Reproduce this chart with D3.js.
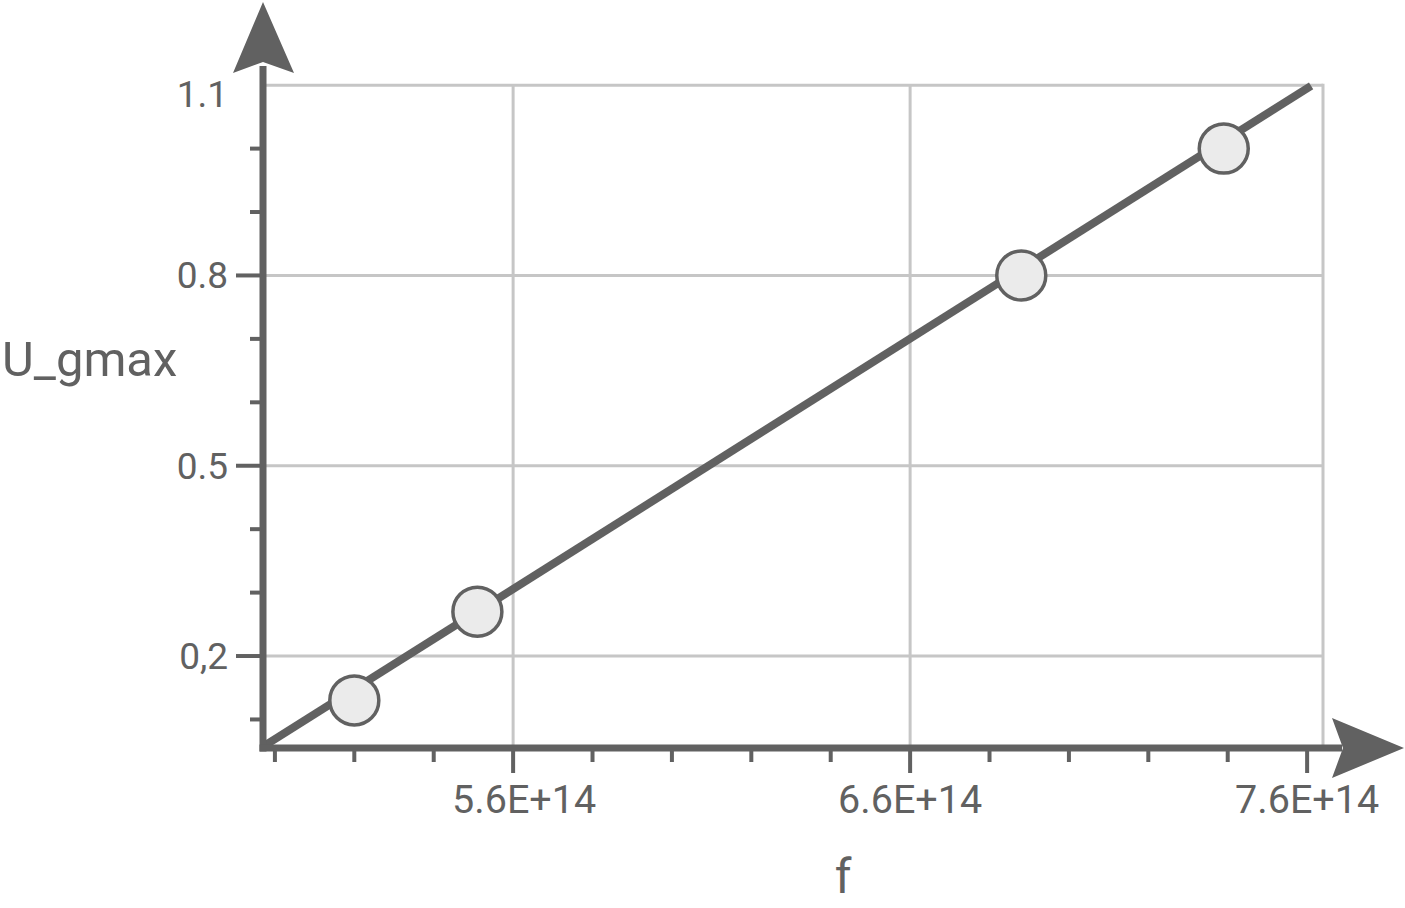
<!DOCTYPE html>
<html>
<head>
<meta charset="utf-8">
<script src="https://cdn.jsdelivr.net/npm/d3@7"></script>
<style>
  html, body { margin: 0; padding: 0; background: #ffffff; }
  svg { display: block; }
  text { font-family: Roboto, "Noto Sans", sans-serif; fill: #616161; }
</style>
</head>
<body>
<svg id="chart" width="1405" height="908"></svg>
<script>
// ---- data ----
const frequencies = [5.20e14, 5.51e14, 6.88e14, 7.39e14];   // f
const voltages    = [0.13, 0.27, 0.80, 1.00];               // U_gmax
const fitLineF    = [4.97e14, 7.61e14];
const fitLineU    = [0.057, 1.099];

const xMajorTicks = [5.6e14, 6.6e14, 7.6e14];
const xMinorTicks = [5.0e14, 5.2e14, 5.4e14, 5.8e14, 6.0e14, 6.2e14, 6.4e14, 6.8e14, 7.0e14, 7.2e14, 7.4e14];
const yMajorTicks = [1.1, 0.8, 0.5, 0.2];
const yMajorLabels = ["1.1", "0.8", "0.5", "0,2"];
const yMinorTicks = [1.0, 0.9, 0.7, 0.6, 0.4, 0.3, 0.1];
const xTitle = "f";
const yTitle = "U_gmax";

// ---- layout ----
const svg = d3.select("#chart");
const axisColor = "#616161";
const gridColor = "#c6c6c6";

const x = d3.scaleLinear().domain([4.97e14, 7.64e14]).range([263, 1323]);
const y = d3.scaleLinear().domain([0.055, 1.105]).range([748, 82]);

const x0 = x.range()[0], x1 = x.range()[1];
const y0 = y.range()[0];
const yTop = y(1.1);

const fmtX = v => d3.format(".1e")(v).toUpperCase();

// grid
const grid = svg.append("g");
grid.selectAll("line.hg").data(yMajorTicks).join("line")
  .attr("x1", x0).attr("x2", x1)
  .attr("y1", d => y(d)).attr("y2", d => y(d))
  .attr("stroke", gridColor).attr("stroke-width", 3);
grid.selectAll("line.vg").data(xMajorTicks.filter(d => x(d) < x1 - 20)).join("line")
  .attr("x1", d => x(d)).attr("x2", d => x(d))
  .attr("y1", yTop).attr("y2", y0)
  .attr("stroke", gridColor).attr("stroke-width", 3);
// right border
grid.append("line")
  .attr("x1", x1).attr("x2", x1).attr("y1", yTop - 1.5).attr("y2", y0)
  .attr("stroke", gridColor).attr("stroke-width", 3);

// x axis ticks
const ax = svg.append("g");
ax.selectAll("line.xmin").data(xMinorTicks).join("line")
  .attr("x1", d => x(d)).attr("x2", d => x(d))
  .attr("y1", y0).attr("y2", y0 + 14)
  .attr("stroke", axisColor).attr("stroke-width", 4);
ax.selectAll("line.xmaj").data(xMajorTicks).join("line")
  .attr("x1", d => x(d)).attr("x2", d => x(d))
  .attr("y1", y0).attr("y2", y0 + 25)
  .attr("stroke", axisColor).attr("stroke-width", 4);
ax.selectAll("text.xl").data(xMajorTicks).join("text")
  .attr("x", (d, i) => x(d) + (i === 0 ? 11 : 0)).attr("y", 813)
  .attr("text-anchor", "middle")
  .attr("font-size", 39.5)
  .text(d => fmtX(d));

// y axis ticks
ax.selectAll("line.ymin").data(yMinorTicks).join("line")
  .attr("x1", x0 - 13).attr("x2", x0)
  .attr("y1", d => y(d)).attr("y2", d => y(d))
  .attr("stroke", axisColor).attr("stroke-width", 4);
ax.selectAll("line.ymaj").data(yMajorTicks.filter(d => d < 1.1)).join("line")
  .attr("x1", x0 - 27).attr("x2", x0)
  .attr("y1", d => y(d)).attr("y2", d => y(d))
  .attr("stroke", axisColor).attr("stroke-width", 4);
ax.selectAll("text.yl").data(yMajorTicks).join("text")
  .attr("x", 228)
  .attr("y", (d, i) => y(d) + (i === 0 ? 22 : 13))
  .attr("text-anchor", "end")
  .attr("font-size", 37)
  .text((d, i) => yMajorLabels[i]);

// fit line
svg.append("line")
  .attr("x1", x(fitLineF[0])).attr("y1", y(fitLineU[0]))
  .attr("x2", x(fitLineF[1])).attr("y2", y(fitLineU[1]))
  .attr("stroke", axisColor).attr("stroke-width", 8);

// axis lines
svg.append("line")
  .attr("x1", x0).attr("x2", x0).attr("y1", y0 + 3.5).attr("y2", 66)
  .attr("stroke", axisColor).attr("stroke-width", 7);
svg.append("line")
  .attr("x1", x0 - 3.5).attr("x2", 1342).attr("y1", y0).attr("y2", y0)
  .attr("stroke", axisColor).attr("stroke-width", 7);

// arrow heads
svg.append("path")
  .attr("d", `M${x0},2 L${x0 + 31},73 L${x0},62 L${x0 - 30},73 Z`)
  .attr("fill", axisColor);
svg.append("path")
  .attr("d", `M1404,${y0} L1332,${y0 - 30} L1343,${y0} L1332,${y0 + 30} Z`)
  .attr("fill", axisColor);

// points
svg.append("g").selectAll("circle").data(frequencies).join("circle")
  .attr("cx", d => x(d))
  .attr("cy", (d, i) => y(voltages[i]))
  .attr("r", 24.5)
  .attr("fill", "#ebebeb")
  .attr("stroke", axisColor).attr("stroke-width", 3.5);

// titles
svg.append("text")
  .attr("x", 2).attr("y", 376)
  .attr("font-size", 49)
  .text(yTitle);
svg.append("text")
  .attr("x", 843).attr("y", 893)
  .attr("text-anchor", "middle")
  .attr("font-size", 48)
  .text(xTitle);
</script>
</body>
</html>
